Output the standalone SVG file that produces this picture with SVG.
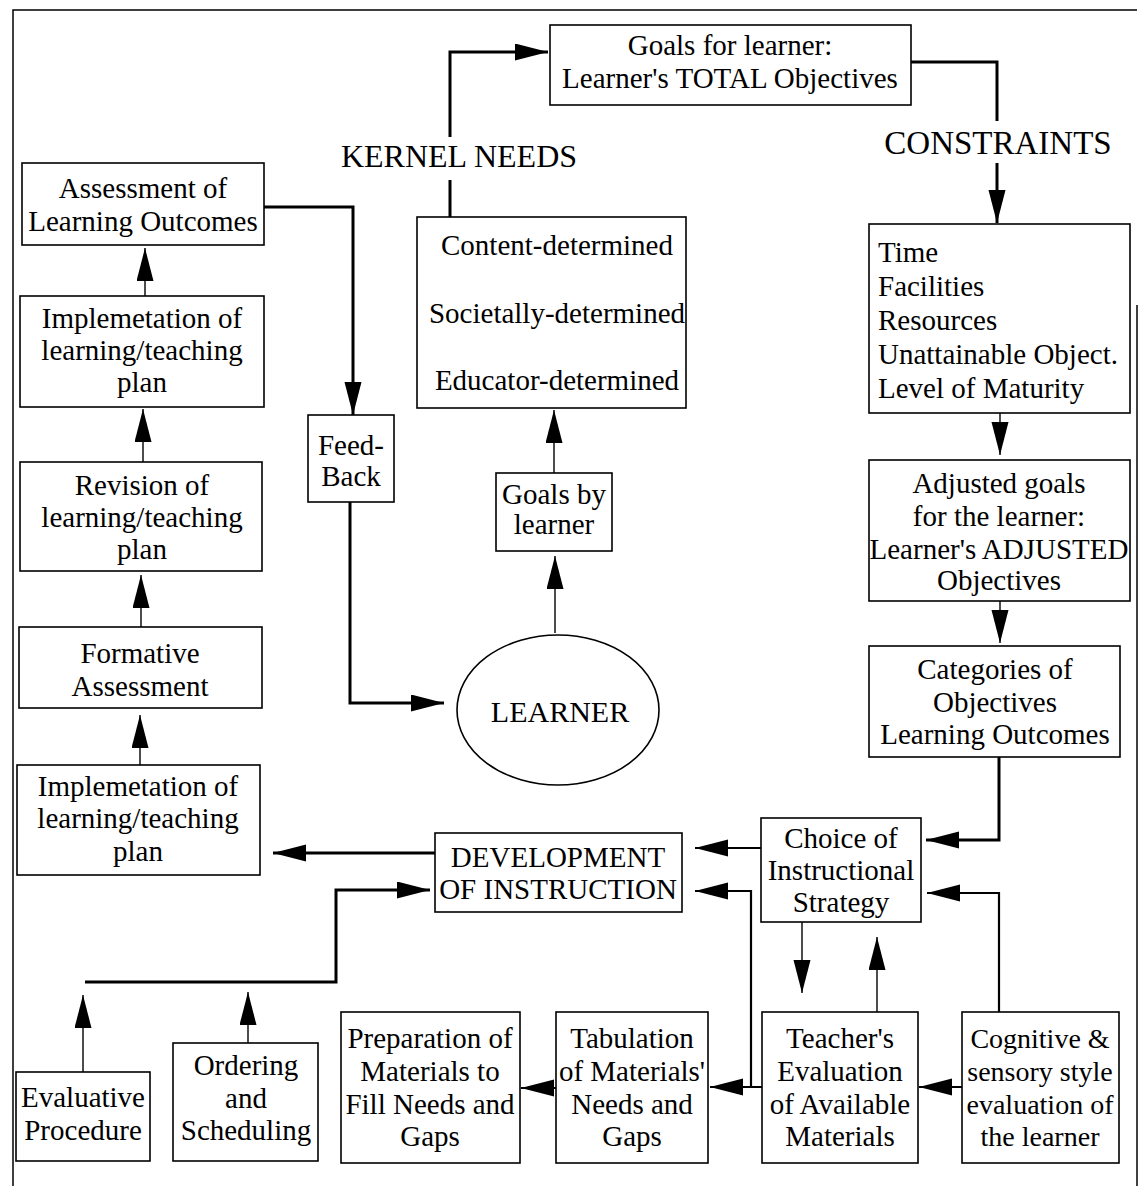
<svg xmlns="http://www.w3.org/2000/svg" width="1141" height="1186" viewBox="0 0 1141 1186">
  <style>
    .box { fill: #fff; stroke: #000; stroke-width: 1.6; }
    .t { font-family: "Liberation Serif", "Times New Roman", serif; font-size: 29px; fill: #000; text-anchor: middle; }
    .tl { text-anchor: start; }
    .big { font-size: 32px; }
    .sm { font-size: 28px; }
    .thin { fill: none; stroke: #000; stroke-width: 1.4; }
    .mid { fill: none; stroke: #000; stroke-width: 2.2; }
    .thick { fill: none; stroke: #000; stroke-width: 3; }
    .frame { fill: none; stroke: #000; stroke-width: 1.5; }
  </style>
  <defs>
    <marker id="arrow" markerUnits="userSpaceOnUse" markerWidth="34" markerHeight="18" refX="33" refY="8.5" orient="auto" viewBox="0 0 34 18">
      <path d="M0,0 L33,8.5 L0,17 z" fill="#000"/>
    </marker>
  </defs>

  <rect width="1141" height="1186" fill="#fff"/>

  <!-- page frame -->
  <g id="frame">
    <path class="frame" d="M13,1186 V10 H1137"/>
    <path class="frame" d="M1137,305 V1186"/>
  </g>

  <!-- connectors -->
  <g id="connectors">
    <path class="thick" d="M450,217 V180"/>
    <path class="thick" d="M450,137 V52 H548" marker-end="url(#arrow)"/>
    <path class="thick" d="M911,62 H997 V121"/>
    <path class="thick" d="M997,163 V223" marker-end="url(#arrow)"/>
    <path class="thin" d="M1000,413 V455" marker-end="url(#arrow)"/>
    <path class="thin" d="M1000,601 V643" marker-end="url(#arrow)"/>
    <path class="thick" d="M999,757 V840 H926" marker-end="url(#arrow)"/>
    <path class="mid" d="M761,848 H695" marker-end="url(#arrow)"/>
    <path class="mid" d="M999,1012 V893 H927" marker-end="url(#arrow)"/>
    <path class="thin" d="M802,922 V993" marker-end="url(#arrow)"/>
    <path class="thin" d="M877,1012 V937" marker-end="url(#arrow)"/>
    <path class="mid" d="M962,1087 H919" marker-end="url(#arrow)"/>
    <path class="mid" d="M762,1087 H710" marker-end="url(#arrow)"/>
    <path class="mid" d="M751,1087 V891 H695" marker-end="url(#arrow)"/>
    <path class="mid" d="M556,1088 H521" marker-end="url(#arrow)"/>
    <path class="thick" d="M435,853 H273" marker-end="url(#arrow)"/>
    <path class="thick" d="M85,982 H336 V890 H430" marker-end="url(#arrow)"/>
    <path class="thin" d="M83,1072 V995" marker-end="url(#arrow)"/>
    <path class="thin" d="M248,1043 V992" marker-end="url(#arrow)"/>
    <path class="thin" d="M140,765 V715" marker-end="url(#arrow)"/>
    <path class="thin" d="M141,627 V575" marker-end="url(#arrow)"/>
    <path class="thin" d="M143,462 V409" marker-end="url(#arrow)"/>
    <path class="thin" d="M145,296 V248" marker-end="url(#arrow)"/>
    <path class="thick" d="M264,207 H353 V415" marker-end="url(#arrow)"/>
    <path class="thick" d="M350,502 V703 H444" marker-end="url(#arrow)"/>
    <path class="thin" d="M555,633 V556" marker-end="url(#arrow)"/>
    <path class="thin" d="M554,473 V410" marker-end="url(#arrow)"/>
  </g>

  <!-- connector labels -->
  <g id="labels">
    <text class="t big" x="459" y="167">KERNEL NEEDS</text>
    <text class="t" x="998" y="154" style="font-size:33px">CONSTRAINTS</text>
  </g>

  <!-- nodes -->
  <g id="goals-total">
    <rect class="box" x="550" y="25" width="361" height="80"/>
    <text class="t" x="730" y="55">Goals for learner:</text>
    <text class="t" x="730" y="88">Learner's TOTAL Objectives</text>
  </g>

  <g id="constraints-list">
    <rect class="box" x="869" y="224" width="261" height="189"/>
    <text class="t tl" x="878" y="262">Time</text>
    <text class="t tl" x="878" y="296">Facilities</text>
    <text class="t tl" x="878" y="330">Resources</text>
    <text class="t tl" x="878" y="364">Unattainable Object.</text>
    <text class="t tl" x="878" y="398">Level of Maturity</text>
  </g>

  <g id="adjusted-goals">
    <rect class="box" x="869" y="460" width="261" height="141"/>
    <text class="t" x="999" y="493">Adjusted goals</text>
    <text class="t" x="999" y="526">for the learner:</text>
    <text class="t" x="999" y="559">Learner's ADJUSTED</text>
    <text class="t" x="999" y="590">Objectives</text>
  </g>

  <g id="categories">
    <rect class="box" x="869" y="646" width="251" height="111"/>
    <text class="t" x="995" y="679">Categories of</text>
    <text class="t" x="995" y="712">Objectives</text>
    <text class="t" x="995" y="744">Learning Outcomes</text>
  </g>

  <g id="kernel-needs">
    <rect class="box" x="417" y="217" width="269" height="191"/>
    <text class="t" x="557" y="255">Content-determined</text>
    <text class="t" x="557" y="323">Societally-determined</text>
    <text class="t" x="557" y="390">Educator-determined</text>
  </g>

  <g id="goals-by-learner">
    <rect class="box" x="496" y="473" width="116" height="78"/>
    <text class="t" x="554" y="504">Goals by</text>
    <text class="t" x="554" y="534">learner</text>
  </g>

  <g id="learner">
    <ellipse class="box" cx="558" cy="710" rx="101" ry="75"/>
    <text class="t" x="560" y="722" style="font-size:30px">LEARNER</text>
  </g>

  <g id="feedback">
    <rect class="box" x="308" y="415" width="86" height="87"/>
    <text class="t" x="351" y="455">Feed-</text>
    <text class="t" x="351" y="486">Back</text>
  </g>

  <g id="assessment-outcomes">
    <rect class="box" x="22" y="163" width="242" height="82"/>
    <text class="t" x="143" y="198">Assessment of</text>
    <text class="t" x="143" y="231">Learning Outcomes</text>
  </g>

  <g id="implementation-upper">
    <rect class="box" x="20" y="296" width="244" height="111"/>
    <text class="t" x="142" y="328">Implemetation of</text>
    <text class="t" x="142" y="360">learning/teaching</text>
    <text class="t" x="142" y="392">plan</text>
  </g>

  <g id="revision">
    <rect class="box" x="20" y="462" width="242" height="109"/>
    <text class="t" x="142" y="495">Revision of</text>
    <text class="t" x="142" y="527">learning/teaching</text>
    <text class="t" x="142" y="559">plan</text>
  </g>

  <g id="formative">
    <rect class="box" x="19" y="627" width="243" height="81"/>
    <text class="t" x="140" y="663">Formative</text>
    <text class="t" x="140" y="696">Assessment</text>
  </g>

  <g id="implementation-lower">
    <rect class="box" x="17" y="765" width="243" height="110"/>
    <text class="t" x="138" y="796">Implemetation of</text>
    <text class="t" x="138" y="828">learning/teaching</text>
    <text class="t" x="138" y="861">plan</text>
  </g>

  <g id="development">
    <rect class="box" x="435" y="833" width="247" height="79"/>
    <text class="t" x="558" y="867">DEVELOPMENT</text>
    <text class="t" x="558" y="899">OF INSTRUCTION</text>
  </g>

  <g id="choice-strategy">
    <rect class="box" x="761" y="818" width="160" height="104"/>
    <text class="t" x="841" y="848">Choice of</text>
    <text class="t" x="841" y="880">Instructional</text>
    <text class="t" x="841" y="912">Strategy</text>
  </g>

  <g id="teacher-evaluation">
    <rect class="box" x="762" y="1012" width="156" height="151"/>
    <text class="t" x="840" y="1048">Teacher's</text>
    <text class="t" x="840" y="1081">Evaluation</text>
    <text class="t" x="840" y="1114">of Available</text>
    <text class="t" x="840" y="1146">Materials</text>
  </g>

  <g id="cognitive-style">
    <rect class="box" x="962" y="1012" width="157" height="151"/>
    <text class="t sm" x="1040" y="1048">Cognitive &amp;</text>
    <text class="t sm" x="1040" y="1081">sensory style</text>
    <text class="t sm" x="1040" y="1114">evaluation of</text>
    <text class="t sm" x="1040" y="1146">the learner</text>
  </g>

  <g id="tabulation">
    <rect class="box" x="556" y="1012" width="152" height="151"/>
    <text class="t" x="632" y="1048">Tabulation</text>
    <text class="t" x="632" y="1081">of Materials'</text>
    <text class="t" x="632" y="1114">Needs and</text>
    <text class="t" x="632" y="1146">Gaps</text>
  </g>

  <g id="preparation">
    <rect class="box" x="341" y="1012" width="179" height="151"/>
    <text class="t" x="430" y="1048">Preparation of</text>
    <text class="t" x="430" y="1081">Materials to</text>
    <text class="t" x="430" y="1114">Fill Needs and</text>
    <text class="t" x="430" y="1146">Gaps</text>
  </g>

  <g id="ordering">
    <rect class="box" x="173" y="1043" width="145" height="118"/>
    <text class="t" x="246" y="1075">Ordering</text>
    <text class="t" x="246" y="1108">and</text>
    <text class="t" x="246" y="1140">Scheduling</text>
  </g>

  <g id="evaluative">
    <rect class="box" x="16" y="1072" width="134" height="89"/>
    <text class="t" x="83" y="1107">Evaluative</text>
    <text class="t" x="83" y="1140">Procedure</text>
  </g>
</svg>
